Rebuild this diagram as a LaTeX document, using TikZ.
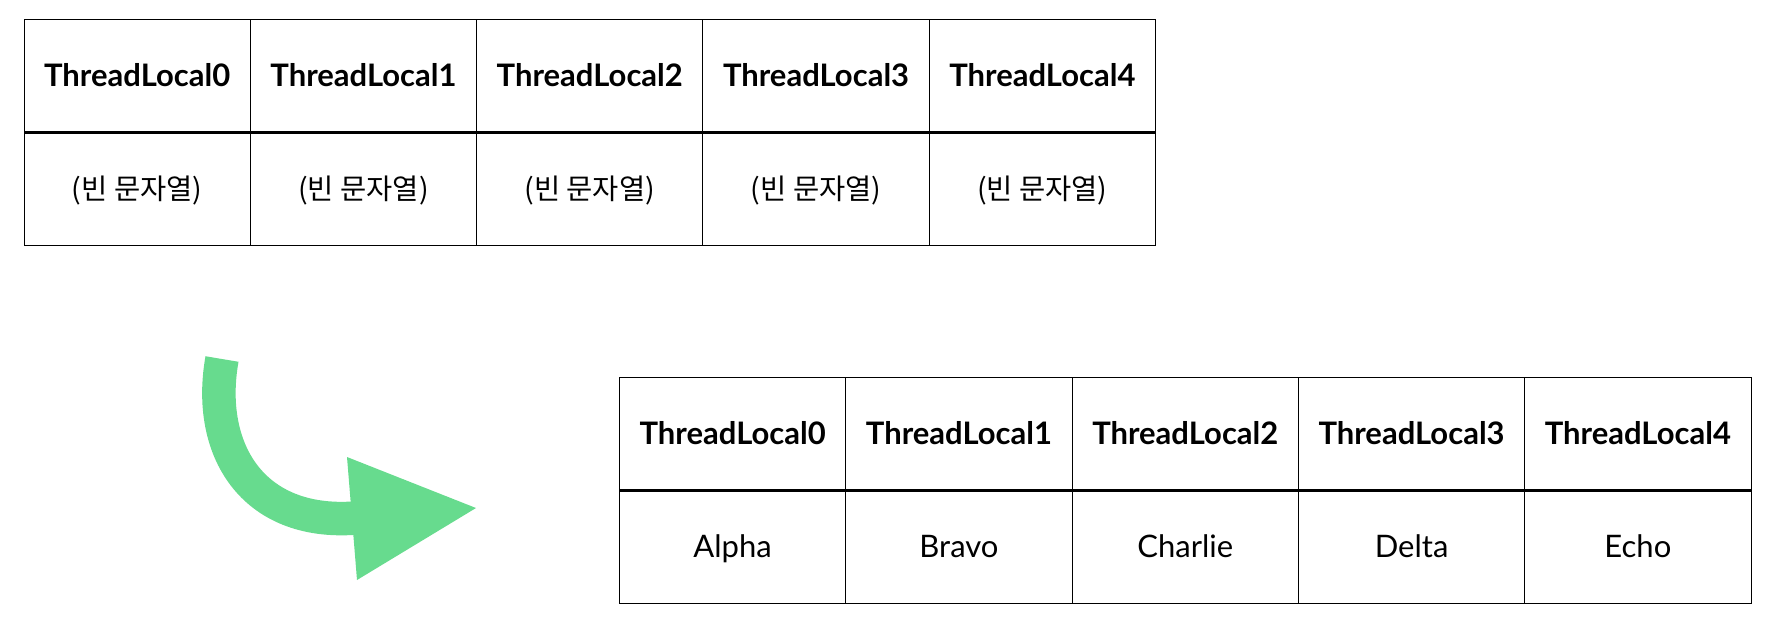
\documentclass[tikz,border=0pt]{standalone}
\usepackage{fontspec}
\setmainfont{Lato}
\newfontfamily\kr{Noto Sans CJK KR}
\usetikzlibrary{positioning}
\definecolor{arrowgreen}{RGB}{103,219,142}
\tikzset{cell/.style={draw,line width=1pt,minimum width=226.3pt,minimum height=113pt,inner sep=0pt,outer sep=0pt,text height=24pt,text depth=3pt,font=\fontsize{31}{36}\selectfont},
  headcell/.style={cell,font=\fontsize{31}{36}\selectfont\bfseries}}

\begin{document}
\begin{tikzpicture}[x=1pt,y=-1pt]
    \useasboundingbox (0,0) rectangle (1776,640);
    \node[headcell,anchor=north west] (ta0) at (24,19.5) {ThreadLocal0};
    \foreach \i [count=\j from 0] in {1,...,4}
      \node[headcell,right=0pt of ta\j] (ta\i) {ThreadLocal\i};
    \foreach \i in {0,...,4}
      \node[cell,below=0pt of ta\i,font=\fontsize{28.5}{34}\selectfont\kr] (tb\i) {(빈 문자열)};
    \draw [line width=3pt] (ta0.south west) -- (ta4.south east);
    \node[headcell,anchor=north west] (ba0) at (619.5,377.5) {ThreadLocal0};
    \foreach \i [count=\j from 0] in {1,...,4}
      \node[headcell,right=0pt of ba\j] (ba\i) {ThreadLocal\i};
    \foreach \word [count=\i from 0] in {Alpha,Bravo,Charlie,Delta,Echo}
      \node[cell,below=0pt of ba\i] (bb\i) {\word};
    \draw [line width=3pt] (ba0.south west) -- (ba4.south east);
    \coordinate (tail) at (222,359);
    \coordinate (base) at (356,518);
    \draw [arrowgreen,line width=33.5pt] (tail) .. controls (206,449) and (252,526) .. (base);
    \fill [arrowgreen] (347,457) -- (476,508) -- (357,580) -- cycle;
\end{tikzpicture}
\end{document}
